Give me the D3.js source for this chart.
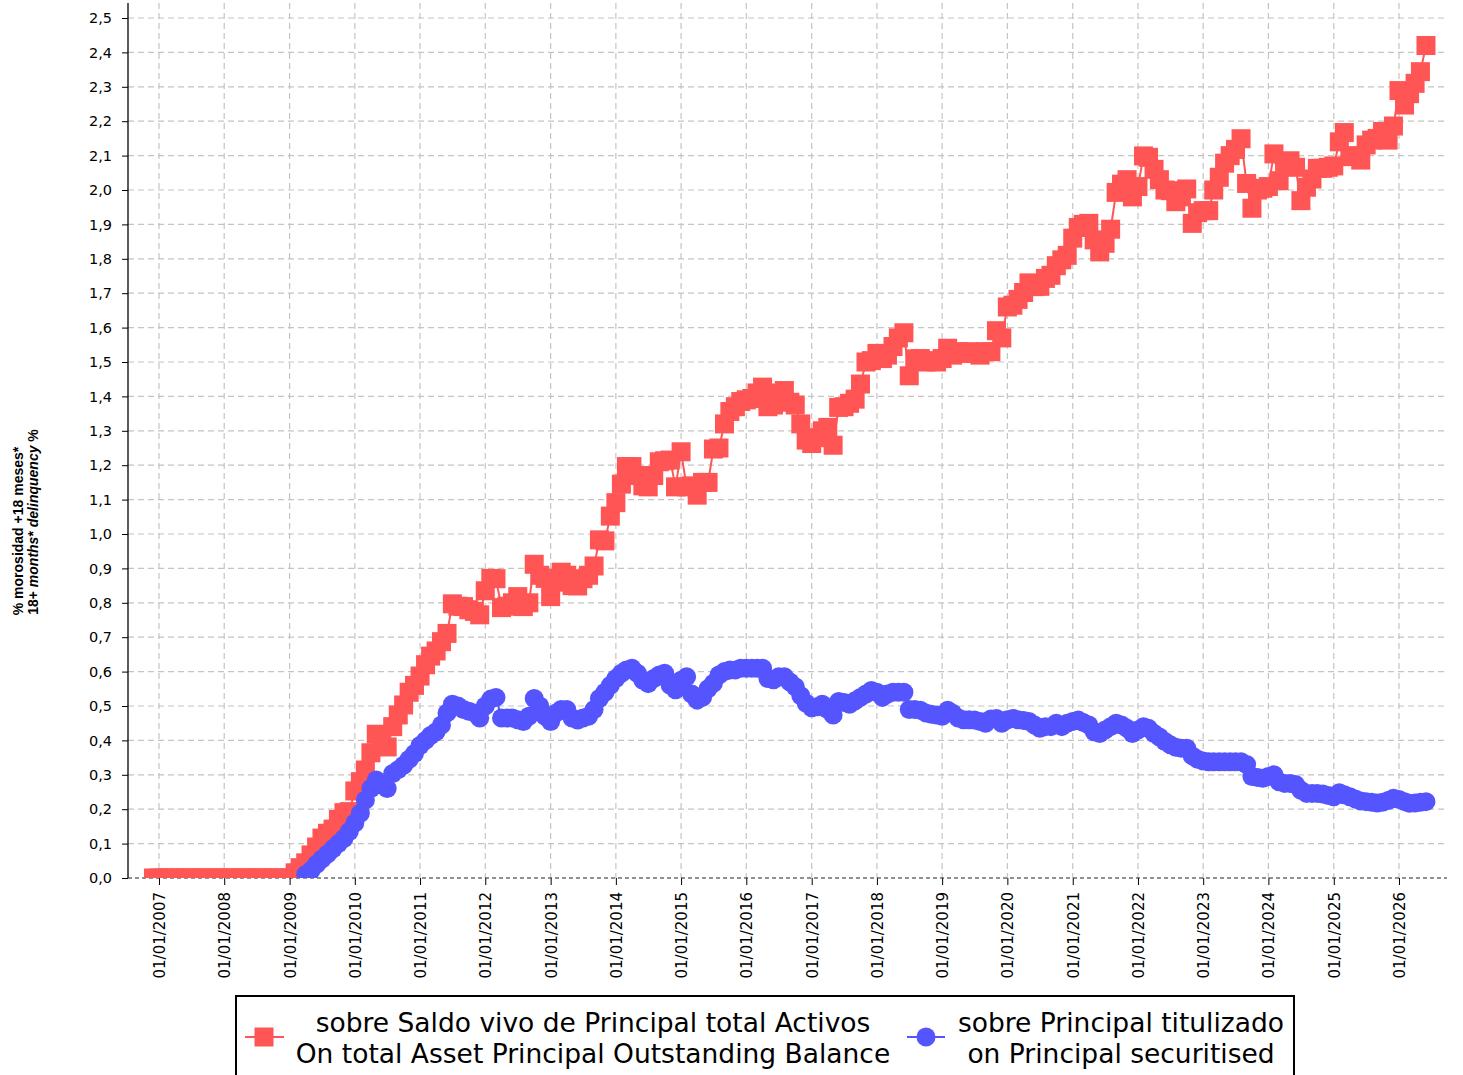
<!DOCTYPE html>
<html>
<head>
<meta charset="utf-8">
<script src="https://cdn.jsdelivr.net/npm/d3@7"></script>
<style>
  body { margin: 0; background: #fff; }
  svg { display: block; font-family: "DejaVu Sans", sans-serif; }
</style>
</head>
<body>
<div id="chart"></div>
<script>
// Monthly series, first month Dec 2006, last month Jun 2026
const firstMonth = new Date(2006, 11, 1);

// sobre Saldo vivo de Principal total Activos (%)
const redValues = [
    0,                                                                          // 2006-12
    0, 0, 0, 0, 0, 0, 0, 0, 0, 0, 0, 0,                                         // 2007
    0, 0, 0, 0, 0, 0, 0, 0, 0, 0, 0, 0,                                         // 2008
    0, 0.015, 0.03, 0.044, 0.067, 0.09, 0.116, 0.13, 0.142, 0.17, 0.19, 0.193,  // 2009
    0.253, 0.28, 0.314, 0.364, 0.418, 0.40, 0.381, 0.44, 0.474, 0.503, 0.54, 0.56,
    0.587, 0.62, 0.645, 0.66, 0.687, 0.711, 0.797, 0.79, 0.789, 0.78, 0.775, 0.765,
    0.835, 0.871, 0.87, 0.786, 0.79, 0.80, 0.818, 0.789, 0.80, 0.912, 0.88, 0.871,
    0.818, 0.86, 0.889, 0.88, 0.85, 0.849, 0.87, 0.88, 0.907, 0.983, 0.98, 1.052,
    1.091, 1.145, 1.196, 1.196, 1.17, 1.14, 1.137, 1.17, 1.21, 1.213, 1.215, 1.137,
    1.239, 1.137, 1.14, 1.113, 1.15, 1.15, 1.247, 1.25, 1.32, 1.356, 1.37, 1.385,
    1.39, 1.394, 1.41, 1.427, 1.37, 1.375, 1.41, 1.417, 1.383, 1.375, 1.32, 1.273,
    1.263, 1.28, 1.30, 1.31, 1.258, 1.368, 1.37, 1.38, 1.392, 1.436, 1.50, 1.504,
    1.525, 1.51, 1.52, 1.545, 1.57, 1.585, 1.46, 1.509, 1.51, 1.50, 1.504, 1.50,
    1.51, 1.54, 1.52, 1.53, 1.525, 1.53, 1.525, 1.52, 1.53, 1.53, 1.591, 1.57,
    1.66, 1.665, 1.682, 1.702, 1.73, 1.719, 1.72, 1.743, 1.752, 1.78, 1.797, 1.81,
    1.86, 1.891, 1.90, 1.903, 1.855, 1.82, 1.845, 1.886, 1.993, 2.017, 2.03, 1.98,
    2.01, 2.099, 2.095, 2.06, 2.03, 2.0, 1.998, 1.966, 1.98, 2.003, 1.903, 1.934,
    1.94, 1.94, 2.0, 2.037, 2.078, 2.10, 2.118, 2.149, 2.019, 1.947, 2.0, 2.005,
    2.01, 2.105, 2.027, 2.07, 2.085, 2.066, 1.969, 2.008, 2.032, 2.063, 2.063, 2.066,
    2.07, 2.14, 2.167, 2.097, 2.10, 2.087, 2.131, 2.145, 2.15, 2.17, 2.145, 2.186,
    2.289, 2.247, 2.28, 2.31, 2.344, 2.42                                       // 2026
];

// sobre Principal titulizado (%), no data before Apr 2009
const blueValues = [
    null,
    null, null, null, null, null, null, null, null, null, null, null, null,
    null, null, null, null, null, null, null, null, null, null, null, null,
    null, null, null, 0.01, 0.022, 0.04, 0.055, 0.07, 0.085, 0.1, 0.115, 0.135,
    0.16, 0.188, 0.227, 0.26, 0.285, 0.27, 0.26, 0.304, 0.315, 0.328, 0.345, 0.362,
    0.385, 0.40, 0.414, 0.425, 0.445, 0.48, 0.505, 0.50, 0.49, 0.485, 0.48, 0.465,
    0.50, 0.52, 0.525, 0.465, 0.465, 0.465, 0.46, 0.455, 0.47, 0.522, 0.50, 0.47,
    0.455, 0.48, 0.49, 0.49, 0.465, 0.459, 0.465, 0.47, 0.49, 0.522, 0.54, 0.56,
    0.58, 0.595, 0.605, 0.61, 0.595, 0.575, 0.565, 0.58, 0.59, 0.595, 0.56, 0.547,
    0.575, 0.585, 0.535, 0.517, 0.525, 0.55, 0.566, 0.59, 0.60, 0.605, 0.605, 0.61,
    0.61, 0.61, 0.61, 0.61, 0.58, 0.576, 0.585, 0.585, 0.57, 0.556, 0.53, 0.508,
    0.495, 0.498, 0.505, 0.49, 0.474, 0.513, 0.51, 0.505, 0.515, 0.525, 0.535, 0.545,
    0.54, 0.525, 0.535, 0.54, 0.54, 0.54, 0.49, 0.49, 0.488, 0.48, 0.476, 0.474,
    0.47, 0.488, 0.479, 0.465, 0.46, 0.46, 0.459, 0.455, 0.45, 0.462, 0.464, 0.45,
    0.46, 0.464, 0.46, 0.458, 0.455, 0.445, 0.435, 0.44, 0.44, 0.45, 0.44, 0.45,
    0.455, 0.459, 0.452, 0.445, 0.425, 0.42, 0.43, 0.44, 0.45, 0.445, 0.435, 0.42,
    0.43, 0.44, 0.435, 0.42, 0.41, 0.397, 0.387, 0.38, 0.377, 0.377, 0.355, 0.345,
    0.34, 0.338, 0.338, 0.338, 0.338, 0.338, 0.338, 0.338, 0.33, 0.295, 0.292, 0.29,
    0.295, 0.30, 0.28, 0.275, 0.275, 0.272, 0.255, 0.246, 0.246, 0.246, 0.244, 0.24,
    0.236, 0.248, 0.242, 0.236, 0.23, 0.224, 0.222, 0.22, 0.218, 0.22, 0.225, 0.232,
    0.228, 0.222, 0.217, 0.218, 0.22, 0.222
];

const yTicks = d3.range(0, 26).map(i => i / 10);
const xTickYears = d3.range(2007, 2027);

const legendRed = ["sobre Saldo vivo de Principal total Activos", "On total Asset Principal Outstanding Balance"];
const legendBlue = ["sobre Principal titulizado", "on Principal securitised"];

const RED = "#ff5555";
const BLUE = "#5555ff";

const width = 1463, height = 1075;
const plot = { left: 128, right: 1447, top: 3, bottom: 878 };

const months = redValues.map((_, i) => d3.timeMonth.offset(firstMonth, i));
const redData = months.map((d, i) => ({ date: d, v: redValues[i] }));
const blueData = months.map((d, i) => ({ date: d, v: blueValues[i] })).filter(d => d.v != null);

const x = d3.scaleTime()
    .domain([new Date(2007, 0, 1), new Date(2026, 0, 1)])
    .range([159, 1399]);
const y = d3.scaleLinear()
    .domain([0, 2.5])
    .range([878, 18]);

const svg = d3.select("#chart").append("svg")
    .attr("width", width)
    .attr("height", height);

svg.append("defs").append("clipPath").attr("id", "plotClip")
    .append("rect")
    .attr("x", plot.left).attr("y", plot.top)
    .attr("width", plot.right - plot.left).attr("height", plot.bottom - plot.top);

// grid
const grid = svg.append("g").attr("stroke", "#c4c4c4").attr("stroke-width", 1.2).attr("stroke-dasharray", "6,4");
grid.selectAll("line.h").data(yTicks.slice(1)).join("line")
    .attr("x1", plot.left).attr("x2", plot.right)
    .attr("y1", d => y(d)).attr("y2", d => y(d));
grid.selectAll("line.v").data(xTickYears).join("line")
    .attr("x1", d => x(new Date(d, 0, 1))).attr("x2", d => x(new Date(d, 0, 1)))
    .attr("y1", plot.top).attr("y2", plot.bottom);

// y axis
const yAxis = svg.append("g")
    .attr("transform", `translate(${plot.left},0)`)
    .call(d3.axisLeft(y)
        .tickValues(yTicks)
        .tickSize(6)
        .tickPadding(10)
        .tickFormat(d => d3.format(".1f")(d).replace(".", ",")));
yAxis.select(".domain").remove();
yAxis.selectAll("text").style("font-size", "14.5px").style("font-family", "DejaVu Sans").attr("fill", "#000");
yAxis.selectAll("line").attr("stroke", "#000");
svg.append("line")
    .attr("x1", plot.left).attr("x2", plot.left)
    .attr("y1", plot.top).attr("y2", plot.bottom)
    .attr("stroke", "#000").attr("stroke-width", 1.3);

// x axis
const xAxis = svg.append("g")
    .attr("transform", `translate(0,${plot.bottom})`)
    .call(d3.axisBottom(x)
        .tickValues(xTickYears.map(yr => new Date(yr, 0, 1)))
        .tickSize(7)
        .tickFormat(d3.timeFormat("%d/%m/%Y")));
xAxis.select(".domain").remove();
xAxis.selectAll("line").attr("stroke", "#000");
xAxis.selectAll("text")
    .attr("transform", "rotate(-90)")
    .attr("x", -14)
    .attr("y", 0)
    .attr("dy", "0.36em")
    .style("text-anchor", "end")
    .style("font-size", "15px")
    .style("font-family", "DejaVu Sans")
    .attr("fill", "#000");
svg.append("line")
    .attr("x1", plot.left).attr("x2", plot.right)
    .attr("y1", plot.bottom).attr("y2", plot.bottom)
    .attr("stroke", "#222").attr("stroke-width", 1.2).attr("stroke-dasharray", "4,3");

// y axis title
const titleFont = "'Liberation Sans', Arial, sans-serif";
svg.append("text")
    .attr("transform", "translate(22.5,531) rotate(-90)")
    .attr("text-anchor", "middle")
    .style("font-family", titleFont).style("font-weight", "bold").style("font-size", "14px")
    .text("% morosidad +18 meses*");
const t2 = svg.append("text")
    .attr("transform", "translate(37.5,522) rotate(-90)")
    .attr("text-anchor", "middle")
    .style("font-family", titleFont).style("font-weight", "bold").style("font-size", "14px");
t2.append("tspan").text("18+ ");
t2.append("tspan").style("font-style", "italic").text("months");
t2.append("tspan").text("* ");
t2.append("tspan").style("font-style", "italic").text("delinquency");
t2.append("tspan").text(" %");

// series
const marks = svg.append("g").attr("clip-path", "url(#plotClip)");
const line = d3.line().x(d => x(d.date)).y(d => y(d.v));
const sq = 19;

marks.append("path").datum(redData)
    .attr("fill", "none").attr("stroke", RED).attr("stroke-width", 2)
    .attr("d", line);
marks.append("g").selectAll("rect").data(redData).join("rect")
    .attr("x", d => x(d.date) - sq / 2)
    .attr("y", d => y(d.v) - sq / 2)
    .attr("width", sq).attr("height", sq)
    .attr("fill", RED);

marks.append("path").datum(blueData)
    .attr("fill", "none").attr("stroke", BLUE).attr("stroke-width", 2)
    .attr("d", line);
marks.append("g").selectAll("circle").data(blueData).join("circle")
    .attr("cx", d => x(d.date))
    .attr("cy", d => y(d.v))
    .attr("r", 9.5)
    .attr("fill", BLUE);

// legend
const legend = svg.append("g");
legend.append("rect")
    .attr("x", 236).attr("y", 996)
    .attr("width", 1058).attr("height", 110)
    .attr("fill", "#fff").attr("stroke", "#000").attr("stroke-width", 2);

legend.append("line").attr("x1", 245).attr("x2", 284).attr("y1", 1037).attr("y2", 1037)
    .attr("stroke", RED).attr("stroke-width", 2);
legend.append("rect").attr("x", 264 - sq / 2).attr("y", 1037 - sq / 2)
    .attr("width", sq).attr("height", sq).attr("fill", RED);
legend.append("line").attr("x1", 907).attr("x2", 945).attr("y1", 1037).attr("y2", 1037)
    .attr("stroke", BLUE).attr("stroke-width", 2);
legend.append("circle").attr("cx", 926).attr("cy", 1037).attr("r", 9.5).attr("fill", BLUE);

function legendText(cx, lines) {
    legend.selectAll(null).data(lines).join("text")
        .attr("x", cx)
        .attr("y", (d, i) => 1032 + i * 31)
        .attr("text-anchor", "middle")
        .style("font-size", "26.5px")
        .style("font-family", "DejaVu Sans")
        .text(d => d);
}
legendText(593, legendRed);
legendText(1121, legendBlue);
</script>
</body>
</html>
